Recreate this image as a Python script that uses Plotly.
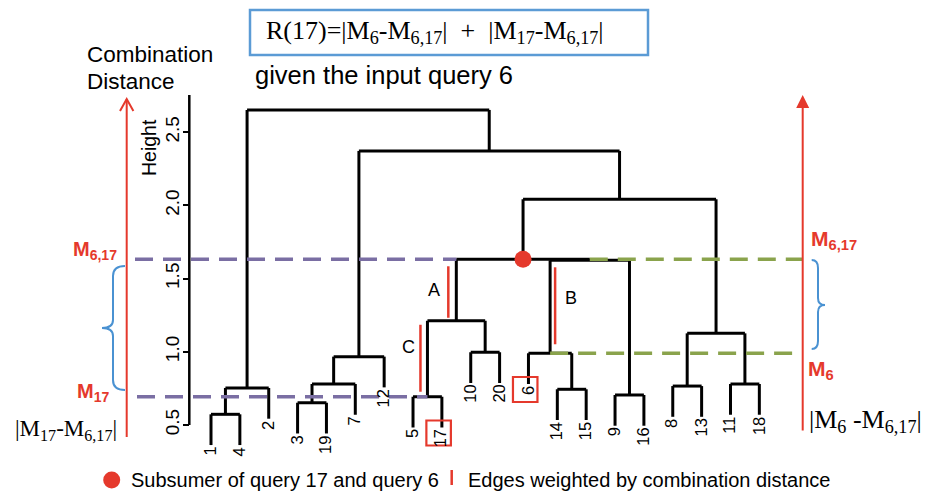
import plotly.graph_objects as go

# ---------------- data ----------------
leaf_order = [1, 4, 2, 3, 19, 7, 12, 5, 17, 10, 20, 6, 14, 15, 9, 16, 8, 13, 11, 18]
# hclust-style merges: negative = leaf label, positive = earlier merge number (1-based)
merge_left = [-1, -3, -5, -9, -14, 1, -8, -11, 2, 9, -6, -10, 7, 3, 11, 14, 16, 10, 6]
merge_right = [-4, -19, -17, -16, -15, -2, -13, -18, -7, -12, 5, -20, 8, 12, 4, 15, 13, 17, 18]
merge_height = [0.573, 0.652, 0.693, 0.705, 0.744, 0.753, 0.766, 0.780, 0.780, 0.967,
                0.990, 0.997, 1.126, 1.212, 1.625, 1.632, 2.042, 2.372, 2.652]
hang = 0.21
query_target = 17
query_input = 6
tick_vals = [0.5, 1.0, 1.5, 2.0, 2.5]
tick_text = ["0.5", "1.0", "1.5", "2.0", "2.5"]
# weighted edges: (label, child merge number)
weighted_edges = [("A", 14), ("B", 11), ("C", 3)]

# ---------------- geometry helpers (screen pixel -> data) ----------------
SCREEN_W, SCREEN_H = 931, 491
BODY = 8  # default page margin of the html body
W, H = SCREEN_W - BODY, SCREEN_H - BODY
PX_X1, PX_PER_X = 211.0, 28.86
PX_Y05, PX_PER_Y = 425.0, 146.4


def X(px):
    return 1 + (px - PX_X1) / PX_PER_X


def Y(py):
    return 0.5 + (PX_Y05 - py) / PX_PER_Y


def dX(d):
    return d / PX_PER_X


def dY(d):
    return d / PX_PER_Y


RED = "#E5392C"
PURPLE = "#7A6EA3"
GREEN = "#8AA34C"
BLUE = "#5B9BD5"
SANS = "Liberation Sans"
SERIF = "Liberation Serif"

# ---------------- dendrogram layout ----------------
pos = {lab: i + 1 for i, lab in enumerate(leaf_order)}
node_x = {}
parent_of_leaf = {}
parent_of_node = {}
leaf_bottom = {}
lx, ly = [], []

for k in range(len(merge_height)):
    m = k + 1
    h = merge_height[k]
    xs = []
    for c in (merge_left[k], merge_right[k]):
        if c < 0:
            cx = pos[-c]
            cb = h - hang
            leaf_bottom[-c] = cb
            parent_of_leaf[-c] = m
        else:
            cx = node_x[c]
            cb = merge_height[c - 1]
            parent_of_node[c] = m
        xs.append(cx)
        lx += [cx, cx, None]
        ly += [cb, h, None]
    lx += [xs[0], xs[1], None]
    ly += [h, h, None]
    node_x[m] = (xs[0] + xs[1]) / 2


def ancestors(leaf):
    out = []
    n = parent_of_leaf[leaf]
    while n:
        out.append(n)
        n = parent_of_node.get(n)
    return out


anc_t = ancestors(query_target)
anc_i = ancestors(query_input)
subsumer = next(n for n in anc_t if n in anc_i)
M_sub = merge_height[subsumer - 1]
M_t = merge_height[parent_of_leaf[query_target] - 1]
M_i = merge_height[parent_of_leaf[query_input] - 1]

fig = go.Figure()
fig.add_trace(go.Scatter(x=lx, y=ly, mode="lines",
                         line=dict(color="black", width=3), hoverinfo="skip"))

# dashed guide lines
sub_left_child = merge_left[subsumer - 1]
sub_right_child = merge_right[subsumer - 1]
fig.add_trace(go.Scatter(x=[X(135), node_x[sub_left_child], None, X(137), node_x[parent_of_leaf[query_target]]],
                         y=[M_sub, M_sub, None, M_t, M_t], mode="lines",
                         line=dict(color=PURPLE, width=3.5, dash="18px,10px"), hoverinfo="skip"))
fig.add_trace(go.Scatter(x=[node_x[sub_right_child], X(802.7), None, node_x[parent_of_leaf[query_input]], X(802.7)],
                         y=[M_sub, M_sub, None, M_i, M_i], mode="lines",
                         line=dict(color=GREEN, width=3.5, dash="18px,10px"), hoverinfo="skip"))

# subsumer dot
fig.add_trace(go.Scatter(x=[node_x[subsumer]], y=[M_sub], mode="markers",
                         marker=dict(color=RED, size=17, line=dict(width=0)), hoverinfo="skip"))

shapes = []
annotations = []

# weighted edges
edge_style = {"A": (-8, 7, 3, -22, 290), "B": (5, 7, 9, 21, 298), "C": (-7, 4, 5, -19, 347)}
for lab, child in weighted_edges:
    par = parent_of_node[child]
    dx, top_in, bot_in, lab_dx, lab_py = edge_style[lab]
    ex = node_x[child] + dX(dx)
    shapes.append(dict(type="line", xref="x", yref="y", x0=ex, x1=ex,
                       y0=merge_height[child - 1] + dY(bot_in), y1=merge_height[par - 1] - dY(top_in),
                       line=dict(color=RED, width=2.5)))
    annotations.append(dict(x=node_x[child] + dX(lab_dx), y=Y(lab_py), xref="x", yref="y", text=lab,
                            showarrow=False, font=dict(family=SANS, size=18, color="black")))

# leaf labels
for lab in leaf_order:
    annotations.append(dict(x=pos[lab], y=leaf_bottom[lab], xref="x", yref="y", text=str(lab),
                            textangle=-90, xanchor="center", yanchor="top", showarrow=False,
                            xshift=-1, font=dict(family=SANS, size=16.5, color="black")))

# red boxes around query labels
for lab in (query_target, query_input):
    shapes.append(dict(type="rect", xref="x", yref="y",
                       x0=pos[lab] - dX(15.5), x1=pos[lab] + dX(9),
                       y0=leaf_bottom[lab] + dY(7), y1=leaf_bottom[lab] + dY(7) - dY(25),
                       line=dict(color=RED, width=2.2)))

# y axis line
shapes.append(dict(type="line", xref="x", yref="y", x0=X(189.3), x1=X(189.3), y0=tick_vals[0], y1=Y(95),
                   line=dict(color="black", width=2.5)))

# left arrow (open head)
shapes.append(dict(type="line", xref="x", yref="y", x0=X(126.7), x1=X(126.7), y0=Y(437), y1=Y(99),
                   line=dict(color=RED, width=2)))
shapes.append(dict(type="path", xref="x", yref="y",
                   path=f"M {X(120):.4f},{Y(111):.4f} L {X(126.7):.4f},{Y(99):.4f} L {X(133.4):.4f},{Y(111):.4f}",
                   line=dict(color=RED, width=2)))
# right arrow (filled head)
annotations.append(dict(x=X(802.7), y=Y(95), ax=X(802.7), ay=Y(432), xref="x", yref="y", axref="x", ayref="y",
                        text="", showarrow=True, arrowhead=2, arrowsize=1.3, arrowwidth=2, arrowcolor=RED))


def brace(pts):
    s = ""
    for cmd, coords in pts:
        s += cmd + " " + " ".join(f"{X(a):.4f},{Y(b):.4f}" for a, b in coords) + " "
    return s


left_brace = brace([("M", [(125, 266)]), ("Q", [(113, 266), (113, 276)]), ("L", [(113, 320)]),
                    ("Q", [(113, 328), (102, 328)]), ("Q", [(113, 328), (113, 336)]), ("L", [(113, 380)]),
                    ("Q", [(113, 390), (125, 390)])])
right_brace = brace([("M", [(811.7, 260)]), ("Q", [(818, 260), (818, 268)]), ("L", [(818, 298)]),
                     ("Q", [(818, 305), (825, 305)]), ("Q", [(818, 305), (818, 312)]), ("L", [(818, 341)]),
                     ("Q", [(818, 349), (811.7, 349)])])
for p in (left_brace, right_brace):
    shapes.append(dict(type="path", xref="x", yref="y", path=p, line=dict(color="#4A92D2", width=2)))

# formula box
shapes.append(dict(type="rect", xref="x", yref="y", x0=X(250), x1=X(648), y0=Y(10), y1=Y(55),
                   line=dict(color=BLUE, width=2.5)))

NB = "\u00a0"
annotations += [
    dict(x=X(264), y=Y(32), xref="x", yref="y", xanchor="left", yanchor="middle", showarrow=False,
         text=f"R(17)=|M<sub>6</sub>-M<sub>6,17</sub>|{NB}{NB}+{NB}{NB}|M<sub>17</sub>-M<sub>6,17</sub>|",
         font=dict(family=SERIF, size=26, color="black")),
    dict(x=X(253), y=Y(75), xref="x", yref="y", xanchor="left", yanchor="middle", showarrow=False,
         text="given the input query 6", font=dict(family=SANS, size=25.5, color="black")),
    dict(x=X(85), y=Y(54), xref="x", yref="y", xanchor="left", yanchor="middle", showarrow=False,
         text="Combination", font=dict(family=SANS, size=22.5, color="black")),
    dict(x=X(85), y=Y(81), xref="x", yref="y", xanchor="left", yanchor="middle", showarrow=False,
         text="Distance", font=dict(family=SANS, size=22.5, color="black")),
    dict(x=X(149), y=Y(148), xref="x", yref="y", textangle=-90, showarrow=False,
         text="Height", font=dict(family=SANS, size=19.5, color="black")),
    # left side labels
    dict(x=X(119), y=Y(250), xref="x", yref="y", xanchor="right", yanchor="middle", showarrow=False,
         text="<b>M<sub>6,17</sub></b>", font=dict(family=SANS, size=20, color=RED)),
    dict(x=X(111), y=Y(392), xref="x", yref="y", xanchor="right", yanchor="middle", showarrow=False,
         text="<b>M<sub>17</sub></b>", font=dict(family=SANS, size=20, color=RED)),
    dict(x=X(119), y=Y(430), xref="x", yref="y", xanchor="right", yanchor="middle", showarrow=False,
         text="|M<sub>17</sub>-M<sub>6,17</sub>|", font=dict(family=SERIF, size=23, color="black")),
    # right side labels
    dict(x=X(809), y=Y(240), xref="x", yref="y", xanchor="left", yanchor="middle", showarrow=False,
         text="<b>M<sub>6,17</sub></b>", font=dict(family=SANS, size=21, color=RED)),
    dict(x=X(806), y=Y(370), xref="x", yref="y", xanchor="left", yanchor="middle", showarrow=False,
         text="<b>M<sub>6</sub></b>", font=dict(family=SANS, size=21, color=RED)),
    dict(x=X(807), y=Y(421), xref="x", yref="y", xanchor="left", yanchor="middle", showarrow=False,
         text=f"|M<sub>6</sub>{NB}-M<sub>6,17</sub>|", font=dict(family=SERIF, size=26, color="black")),
    # legend
    dict(x=X(129), y=Y(479.5), xref="x", yref="y", xanchor="left", yanchor="middle", showarrow=False,
         text="Subsumer of query 17 and query 6", font=dict(family=SANS, size=20, color="black")),
    dict(x=X(466), y=Y(479.5), xref="x", yref="y", xanchor="left", yanchor="middle", showarrow=False,
         text="Edges weighted by combination distance", font=dict(family=SANS, size=20, color="black")),
]

# legend marks
shapes.append(dict(type="circle", xref="x", yref="y", x0=X(111.7) - dX(8.5), x1=X(111.7) + dX(8.5),
                   y0=Y(480) - dY(8.5), y1=Y(480) + dY(8.5), fillcolor=RED, line=dict(width=0)))
shapes.append(dict(type="line", xref="x", yref="y", x0=X(451.7), x1=X(451.7), y0=Y(470), y1=Y(485),
                   line=dict(color=RED, width=2.5)))

fig.update_layout(
    width=W, height=H, margin=dict(l=0, r=0, t=0, b=0, pad=0),
    paper_bgcolor="white", plot_bgcolor="white", showlegend=False, hovermode=False,
    xaxis=dict(range=[X(BODY), X(SCREEN_W)], visible=False, fixedrange=True),
    yaxis=dict(range=[Y(SCREEN_H), Y(BODY)], anchor="free", position=(189.3 - BODY) / W, side="left",
               tickvals=tick_vals, ticktext=tick_text, tickangle=-90, ticks="outside",
               ticklen=6, tickwidth=2.2, tickcolor="black", showgrid=False, zeroline=False,
               showline=False, ticklabelstandoff=-3,
               tickfont=dict(family=SANS, size=19, color="black"), fixedrange=True),
    shapes=shapes, annotations=annotations,
)

fig.write_html("out.html")
